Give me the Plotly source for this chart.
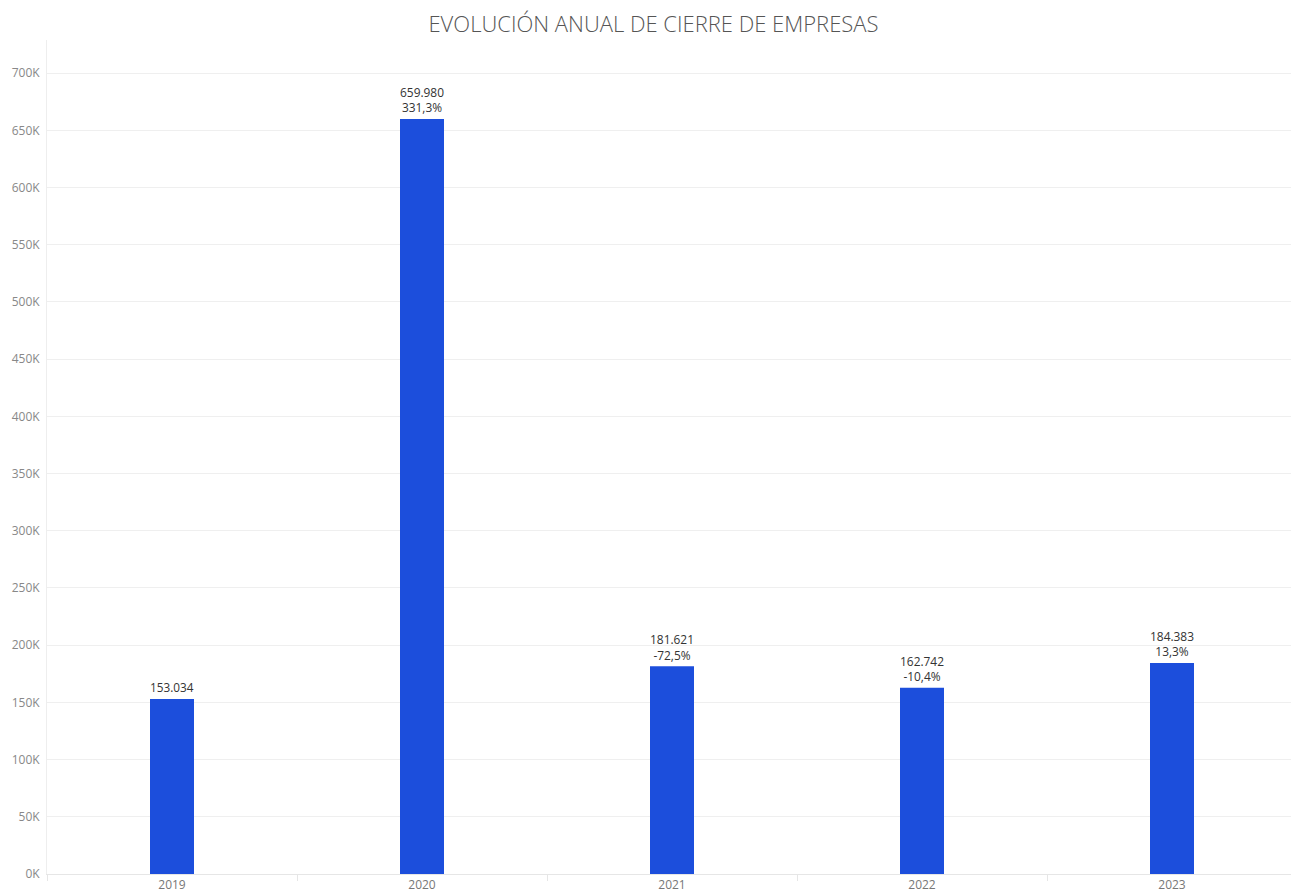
import plotly.graph_objects as go

years = ["2019", "2020", "2021", "2022", "2023"]
closures = [153034, 659980, 181621, 162742, 184383]
pct_change = ["", "331,3%", "-72,5%", "-10,4%", "13,3%"]
y_ticks = [0, 50000, 100000, 150000, 200000, 250000, 300000, 350000, 400000,
           450000, 500000, 550000, 600000, 650000, 700000]

labels = []
for v, p in zip(closures, pct_change):
    s = f"{v:,}".replace(",", ".")
    labels.append(s + ("<br>" + p if p else ""))

fig = go.Figure(go.Bar(
    x=years, y=closures, text=labels, textposition="outside",
    textfont=dict(family="Open Sans, sans-serif", size=13, color="#333333"),
    marker=dict(color="#1c4edc", line=dict(width=0)),
    width=0.176, cliponaxis=False, hoverinfo="skip",
))

# page body has an 8px margin, so the figure is offset by 8px
fig.update_layout(
    width=1291, height=885,
    paper_bgcolor="white", plot_bgcolor="white",
    margin=dict(l=39, r=2, t=32, b=19),
    title=dict(text="EVOLUCIÓN ANUAL DE CIERRE DE EMPRESAS", x=0.5, xanchor="center",
               y=0.982, yanchor="middle",
               font=dict(family="Open Sans, sans-serif", size=22, color="#555555", weight=300)),
    showlegend=False,
)
fig.update_xaxes(
    type="category", showgrid=False, showline=True, linecolor="#e6e6e6", linewidth=1,
    ticks="outside", tickson="boundaries", ticklen=6, tickcolor="#e6e6e6",
    tickfont=dict(family="Open Sans, sans-serif", size=12, color="#777777"),
    automargin=False,
)
fig.update_yaxes(
    range=[0, 729000], tickvals=y_ticks,
    ticktext=[f"{v // 1000}K" for v in y_ticks],
    showgrid=True, gridcolor="#efefef", gridwidth=1, zeroline=False,
    showline=True, linecolor="#eeeeee", linewidth=1,
    tickfont=dict(family="Open Sans, sans-serif", size=12, color="#888888"),
    ticklabelstandoff=4, automargin=False,
)

fig.write_html("out.html")
